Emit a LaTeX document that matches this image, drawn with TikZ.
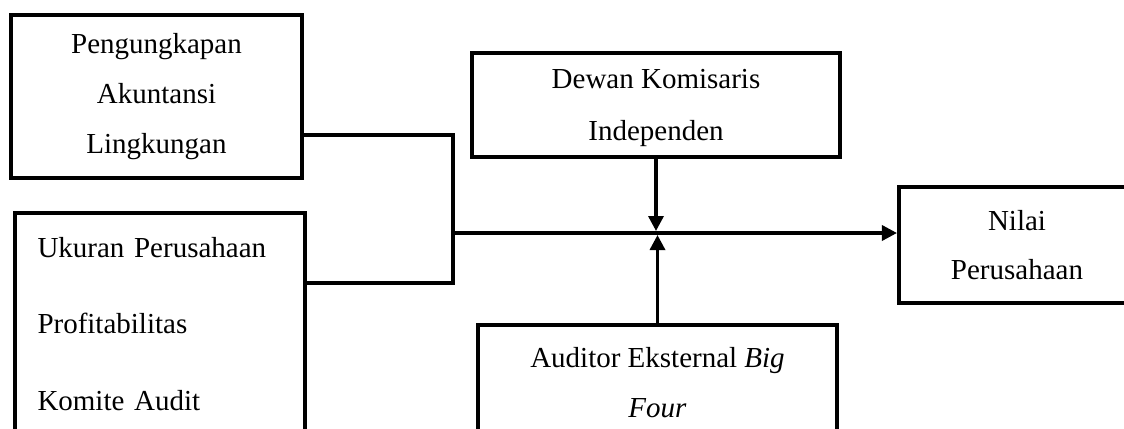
\documentclass[tikz,border=0pt]{standalone}
\usepackage{fontspec}
\setmainfont{Liberation Serif}
\usepackage{tikz}
\usetikzlibrary{calc,positioning,arrows.meta}

\begin{document}
\begin{tikzpicture}[
	varbox/.style={draw, line width=2.3pt, inner sep=0pt, align=center,
		font=\fontsize{16.5pt}{28.3pt}\selectfont},
	listbox/.style={varbox, align=left, text width=4.9cm,
		font=\fontsize{16.5pt}{43.7pt}\selectfont},
	link/.style={line width=1.9pt},
	arrowlink/.style={link, -{Triangle[length=0.3cm,width=0.3cm]}}
]
	\useasboundingbox (0,0) rectangle (22.48,8.56);

	% Independent variables
	\node [varbox, minimum width=5.82cm, minimum height=3.26cm] (pal) at (3.13, 6.63)
		{Pengungkapan\\Akuntansi\\Lingkungan};
	\node [listbox, minimum width=5.8cm, minimum height=4.44cm] (ctrl) at (3.2, 2.08)
		{Ukuran Perusahaan\\Profitabilitas\\Komite Audit};

	% Moderating variables
	\node [varbox, font=\fontsize{16.5pt}{29.5pt}\selectfont, text depth=-0.06cm,
		minimum width=7.36cm, minimum height=2.08cm] (dki) at (13.12, 6.46)
		{Dewan Komisaris\\Independen};
	\node [varbox, minimum width=7.18cm, minimum height=2.3cm] (big4) at (13.15, 0.91)
		{Auditor Eksternal \textit{Big}\\\textit{Four}};

	% Dependent variable
	\node [varbox, minimum width=4.72cm, minimum height=2.32cm] (nilai) at (20.34, 3.66)
		{Nilai\\Perusahaan};

	% Junction points
	\coordinate (jtop) at (9.06, 5.86);
	\coordinate (jbot) at (9.06, 2.9);
	\coordinate (jmid) at (9.06, 3.9);

	\draw [link] (pal.east |- jtop) -- (jtop) -- (jbot) -- (ctrl.east |- jbot);
	\draw [arrowlink] (jmid) -- (jmid -| nilai.west);
	\draw [arrowlink] (dki.south) -- ($(dki.south |- jmid) + (0, 0.04)$);
	\draw [arrowlink] (big4.north) -- ($(big4.north |- jmid) + (0, -0.04)$);
\end{tikzpicture}
\end{document}
